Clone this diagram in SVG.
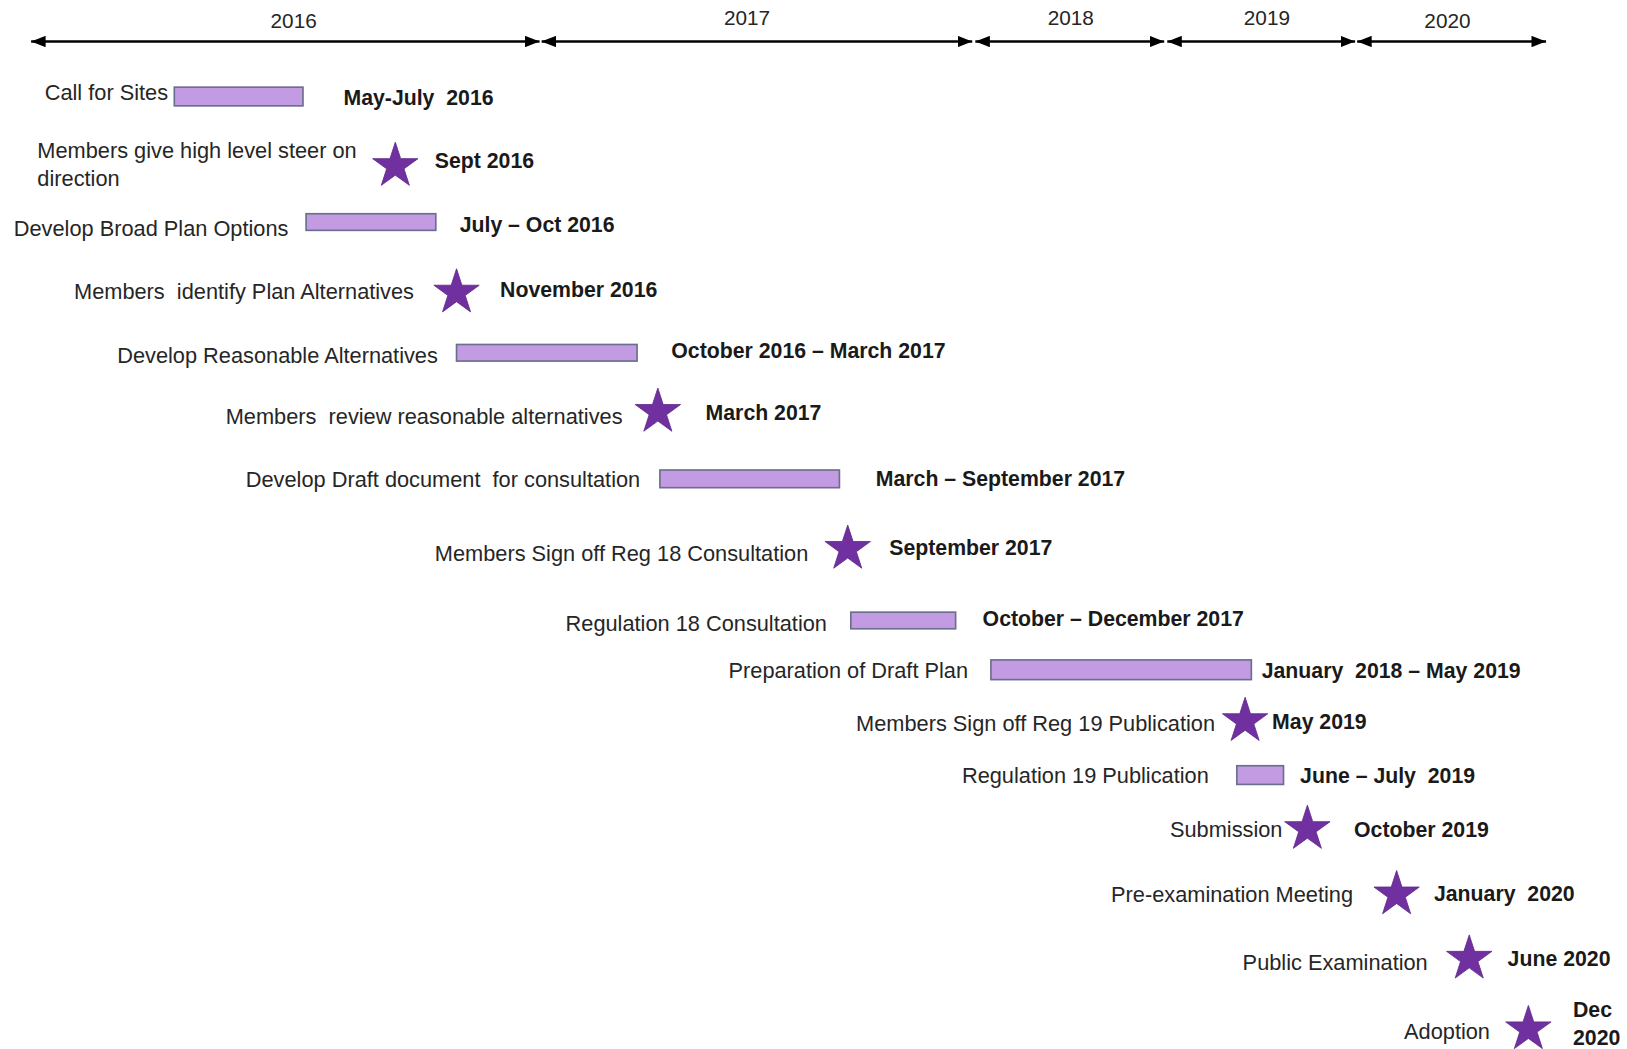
<svg xmlns="http://www.w3.org/2000/svg" width="1627" height="1049" viewBox="0 0 1627 1049">
<style>
.lbl{font-family:"Liberation Sans",Arial,sans-serif;font-size:21px;fill:#262626;text-anchor:end;white-space:pre}
.dt{font-family:"Liberation Sans",Arial,sans-serif;font-size:20.5px;font-weight:bold;fill:#1a1a1a;white-space:pre}
.yr{font-family:"Liberation Sans",Arial,sans-serif;font-size:20px;fill:#262626;text-anchor:middle}
.bar{fill:#c39be3;stroke:#6b6f8f;stroke-width:1.6}
.star{fill:#7030a0;stroke:#5f2b8a;stroke-width:0.8}
.axis{stroke:#000;stroke-width:2.2;fill:none}
</style>
<defs>
<marker id="arr" viewBox="0 0 14 11" refX="14" refY="5.5" markerWidth="14" markerHeight="11" markerUnits="userSpaceOnUse" orient="auto-start-reverse">
<path d="M0,0 L14,5.5 L0,11 Z" fill="#000"/>
</marker>
<path id="star" d="M0,-23 L5.17,-7.12 L21.87,-7.11 L8.37,2.72 L13.52,18.61 L0,8.8 L-13.52,18.61 L-8.37,2.72 L-21.87,-7.11 L-5.17,-7.12 Z"/>
</defs>
<rect width="1627" height="1049" fill="#fff"/>
<g transform="scale(1.0376)">
<g id="connectors">
<line class="axis" x1="30" y1="40" x2="520" y2="40" marker-start="url(#arr)" marker-end="url(#arr)"/>
<line class="axis" x1="522" y1="40" x2="937" y2="40" marker-start="url(#arr)" marker-end="url(#arr)"/>
<line class="axis" x1="940" y1="40" x2="1122" y2="40" marker-start="url(#arr)" marker-end="url(#arr)"/>
<line class="axis" x1="1125" y1="40" x2="1306" y2="40" marker-start="url(#arr)" marker-end="url(#arr)"/>
<line class="axis" x1="1308" y1="40" x2="1490" y2="40" marker-start="url(#arr)" marker-end="url(#arr)"/>
</g>
<g id="years">
<text class="yr" x="283" y="27">2016</text>
<text class="yr" x="720" y="24">2017</text>
<text class="yr" x="1032" y="24">2018</text>
<text class="yr" x="1221" y="24">2019</text>
<text class="yr" x="1395" y="27">2020</text>
</g>
<g id="n1">
<text class="lbl" x="162" y="96">Call for Sites</text>
<rect class="bar" x="168" y="84" width="124" height="18"/>
<text class="dt" x="331" y="101" xml:space="preserve">May-July  2016</text>
</g>
<g id="n2">
<text class="lbl" x="36" y="152" style="text-anchor:start">Members give high level steer on</text>
<text class="lbl" x="36" y="179" style="text-anchor:start">direction</text>
<use href="#star" class="star" x="381" y="160"/>
<text class="dt" x="419" y="162">Sept 2016</text>
</g>
<g id="n3">
<text class="lbl" x="278" y="227">Develop Broad Plan Options</text>
<rect class="bar" x="295" y="206" width="125" height="16"/>
<text class="dt" x="443" y="224">July – Oct 2016</text>
</g>
<g id="n4">
<text class="lbl" x="399" y="288" xml:space="preserve">Members  identify Plan Alternatives</text>
<use href="#star" class="star" x="440" y="282"/>
<text class="dt" x="482" y="286">November 2016</text>
</g>
<g id="n5">
<text class="lbl" x="422" y="350">Develop Reasonable Alternatives</text>
<rect class="bar" x="440" y="332" width="174" height="16"/>
<text class="dt" x="647" y="345">October 2016 – March 2017</text>
</g>
<g id="n6">
<text class="lbl" x="600" y="409" xml:space="preserve">Members  review reasonable alternatives</text>
<use href="#star" class="star" x="634" y="397"/>
<text class="dt" x="680" y="405">March 2017</text>
</g>
<g id="n7">
<text class="lbl" x="617" y="469" xml:space="preserve">Develop Draft document  for consultation</text>
<rect class="bar" x="636" y="453" width="173" height="17"/>
<text class="dt" x="844" y="468">March – September 2017</text>
</g>
<g id="n8">
<text class="lbl" x="779" y="541">Members Sign off Reg 18 Consultation</text>
<use href="#star" class="star" x="817" y="529"/>
<text class="dt" x="857" y="535">September 2017</text>
</g>
<g id="n9">
<text class="lbl" x="797" y="608">Regulation 18 Consultation</text>
<rect class="bar" x="820" y="590" width="101" height="16"/>
<text class="dt" x="947" y="603">October – December 2017</text>
</g>
<g id="n10">
<text class="lbl" x="933" y="653">Preparation of Draft Plan</text>
<rect class="bar" x="955" y="636" width="251" height="19"/>
<text class="dt" x="1216" y="653" xml:space="preserve">January  2018 – May 2019</text>
</g>
<g id="n11">
<text class="lbl" x="1171" y="705">Members Sign off Reg 19 Publication</text>
<use href="#star" class="star" x="1200" y="695"/>
<text class="dt" x="1226" y="703">May 2019</text>
</g>
<g id="n12">
<text class="lbl" x="1165" y="755">Regulation 19 Publication</text>
<rect class="bar" x="1192" y="738" width="45" height="18"/>
<text class="dt" x="1253" y="755" xml:space="preserve">June – July  2019</text>
</g>
<g id="n13">
<text class="lbl" x="1236" y="807">Submission</text>
<use href="#star" class="star" x="1260" y="799"/>
<text class="dt" x="1305" y="807">October 2019</text>
</g>
<g id="n14">
<text class="lbl" x="1304" y="869">Pre-examination Meeting</text>
<use href="#star" class="star" x="1346" y="862"/>
<text class="dt" x="1382" y="868" xml:space="preserve">January  2020</text>
</g>
<g id="n15">
<text class="lbl" x="1376" y="935">Public Examination</text>
<use href="#star" class="star" x="1416" y="924"/>
<text class="dt" x="1453" y="931">June 2020</text>
</g>
<g id="n16">
<text class="lbl" x="1436" y="1001">Adoption</text>
<use href="#star" class="star" x="1473" y="992"/>
<text class="dt" x="1516" y="980">Dec</text>
<text class="dt" x="1516" y="1007">2020</text>
</g>
</g>
</svg>
